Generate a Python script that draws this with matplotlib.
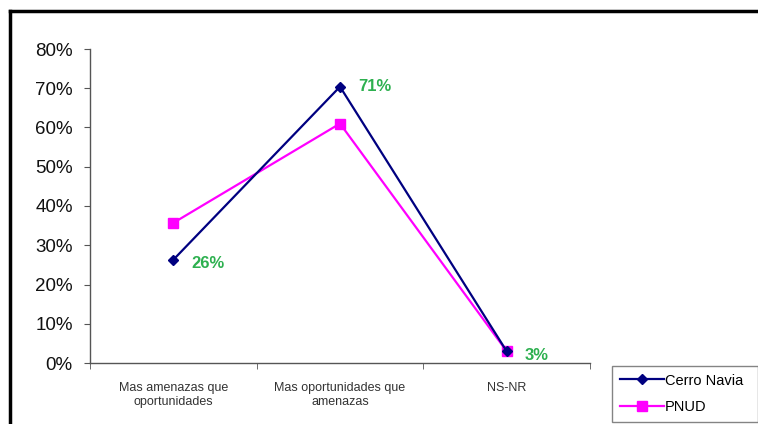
import matplotlib
matplotlib.use("Agg")
import matplotlib.pyplot as plt
from matplotlib.lines import Line2D
from matplotlib.ticker import FixedLocator, PercentFormatter

plt.rcParams['font.family'] = ['Liberation Sans', 'DejaVu Sans']

# data
categories = ['Mas amenazas que\noportunidades', 'Mas oportunidades que\namenazas', 'NS-NR']
cerro_navia = [26.3, 70.4, 3.0]
pnud = [35.7, 61.0, 3.0]
cerro_labels = ['26%', '71%', '3%']

fig = plt.figure(figsize=(7.58, 4.24), dpi=100)
ax = fig.add_axes([90 / 758, 1 - 363 / 424, 500 / 758, 314 / 424])

x = list(range(len(categories)))
ax.plot(x, cerro_navia, color='#000080', marker='D', markersize=5, lw=1.6,
        label='Cerro Navia', zorder=3)
ax.plot(x, pnud, color='#FF00FF', marker='s', markersize=7.5, lw=1.6,
        label='PNUD', zorder=2)

# green value labels next to Cerro Navia points
for i, (v, lab) in enumerate(zip(cerro_navia, cerro_labels)):
    ax.annotate(lab, (i, v), xytext=(13, -3 if i != 1 else 0), textcoords='offset points',
                color='#2DB04F', fontsize=12, fontweight='bold', va='center', ha='left')

ax.set_xlim(-0.5, len(categories) - 0.5)
ax.set_ylim(0, 80)
ax.yaxis.set_major_locator(FixedLocator(range(0, 81, 10)))
ax.yaxis.set_major_formatter(PercentFormatter(decimals=0))
ax.set_xticks(x)
ax.set_xticklabels(categories, fontsize=9, color='#333333', linespacing=1.15)
ax.xaxis.set_minor_locator(FixedLocator([i - 0.5 for i in range(len(categories) + 1)]))
ax.tick_params(axis='x', which='major', length=0, pad=14)
ax.tick_params(axis='x', which='minor', length=4, direction='out', color='#555555')
ax.tick_params(axis='y', length=4.5, direction='out', labelsize=13.5, color='#555555',
               pad=8, labelcolor='#111111')

for s in ['top', 'right']:
    ax.spines[s].set_visible(False)
for s in ['left', 'bottom']:
    ax.spines[s].set_color('#555555')
    ax.spines[s].set_linewidth(1.0)

leg = ax.legend(loc='lower left', bbox_to_anchor=(612 / 758, 2 / 424, 146 / 758, 61 / 424),
                bbox_transform=fig.transFigure, mode='expand', fontsize=10.5,
                frameon=True, fancybox=False, edgecolor='#666666', borderaxespad=0,
                handlelength=3.0, labelspacing=0.85, borderpad=0.55, handletextpad=0.1)
leg.get_frame().set_linewidth(1.0)

# outer frame, only top and left edges visible in the reference crop
fig.add_artist(Line2D([10 / 758, 10 / 758], [0, 1 - 11 / 424], transform=fig.transFigure,
                      color='black', lw=2.5))
fig.add_artist(Line2D([10 / 758, 1], [1 - 11 / 424, 1 - 11 / 424], transform=fig.transFigure,
                      color='black', lw=2.5))

fig.savefig('out.png', dpi=100)
